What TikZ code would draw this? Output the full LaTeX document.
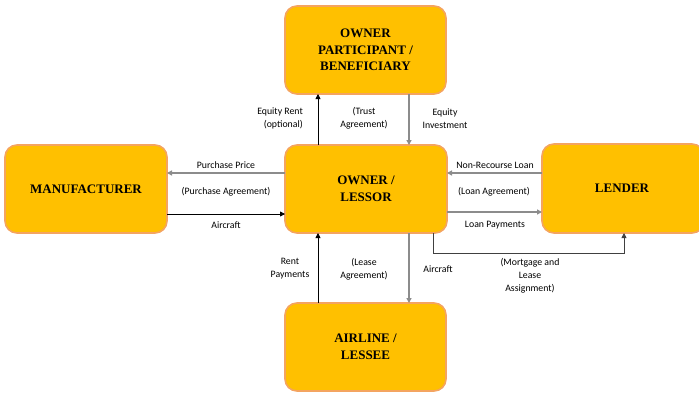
\documentclass[tikz,border=0pt]{standalone}
\usepackage{fontspec}
\setmainfont{Liberation Serif}
\newfontfamily\lblfont{Carlito}
\usetikzlibrary{arrows.meta}
\definecolor{boxfill}{HTML}{FFC000}
\definecolor{boxline}{HTML}{F4A460}
\definecolor{grayline}{HTML}{8C8C8C}
\definecolor{darkline}{HTML}{404040}
\tikzset{
  x=1pt, y=-1pt,
  party/.style={draw=boxline, line width=1.6pt, fill=boxfill, rounded corners=12pt},
  ptext/.style={font=\fontsize{13}{16.5}\selectfont\bfseries, align=center},
  lbl/.style={font=\lblfont\fontsize{9.8}{13}\selectfont, align=center, inner sep=0pt},
  blk/.style={draw=black, line width=0.8pt, -{Triangle[length=5pt,width=5pt]}},
  gry/.style={draw=grayline, line width=1.4pt, -{Triangle[length=5pt,width=5pt]}},
}
\begin{document}
\begin{tikzpicture}
\useasboundingbox (0,0) rectangle (699,392);
\begin{scope}
\clip (0,0) rectangle (699,392);
% boxes
\draw[party] (285,6) rectangle (446,94);
\node[ptext] (op) at (365.5,50) {OWNER\\PARTICIPANT /\\BENEFICIARY};
\draw[party] (285,145) rectangle (447,233);
\node[ptext] (ol) at (366,189) {OWNER /\\LESSOR};
\draw[party] (5,145) rectangle (167,233);
\node[ptext] (mf) at (86,189) {MANUFACTURER};
\draw[party] (542,144) rectangle (704,233);
\node[ptext] (ld) at (622,188) {LENDER};
\draw[party] (285,303) rectangle (446,391);
\node[ptext] (al) at (365.5,347) {AIRLINE /\\LESSEE};
\end{scope}
% coordinates
\coordinate (opL) at (318,94);
\coordinate (opR) at (409,94);
\coordinate (olTL) at (318,145);
\coordinate (olTR) at (409,145);
\coordinate (olBL) at (318,233);
\coordinate (olBR) at (409,233);
\coordinate (olBM) at (433,233);
\coordinate (alL) at (318,303);
\coordinate (alR) at (409,303);
\coordinate (olLa) at (285,173);
\coordinate (olLb) at (285,214);
\coordinate (mfa) at (167,173);
\coordinate (mfb) at (167,214);
\coordinate (olRa) at (447,173);
\coordinate (olRb) at (447,212);
\coordinate (lda) at (542,173);
\coordinate (ldb) at (542,212);
\coordinate (ldB) at (624,233);
% connectors
\draw[blk] (olTL) -- (opL);
\draw[gry] (opR) -- (olTR);
\draw[gry] (olLa) -- (mfa);
\draw[blk] (mfb) -- (olLb);
\draw[gry] (lda) -- (olRa);
\draw[gry] (olRb) -- (ldb);
\draw[blk] (alL) -- (olBL);
\draw[gry] (olBR) -- (alR);
\draw[darkline, line width=0.8pt, -{Triangle[length=5pt,width=5pt]}] (olBM) -- (433,253) -- (624,253) -- (ldB);
% labels
\node[lbl, align=right, anchor=east] (l1) at (303,118.5) {Equity Rent\\(optional)};
\node[lbl] (l2) at (364,118.5) {(Trust\\Agreement)};
\node[lbl] (l3) at (445,118.5) {Equity\\Investment};
\node[lbl] (l4) at (226,165) {Purchase Price};
\node[lbl] (l5) at (226,192) {(Purchase Agreement)};
\node[lbl] (l6) at (226,225) {Aircraft};
\node[lbl] (l7) at (495,165) {Non-Recourse Loan};
\node[lbl] (l8) at (494,192) {(Loan Agreement)};
\node[lbl] (l9) at (495,225) {Loan Payments};
\node[lbl] (l10) at (290,269) {Rent\\Payments};
\node[lbl] (l11) at (364,269) {(Lease\\Agreement)};
\node[lbl] (l12) at (438,269) {Aircraft};
\node[lbl] (l13) at (530,275.5) {(Mortgage and\\Lease\\Assignment)};
\end{tikzpicture}
\end{document}
